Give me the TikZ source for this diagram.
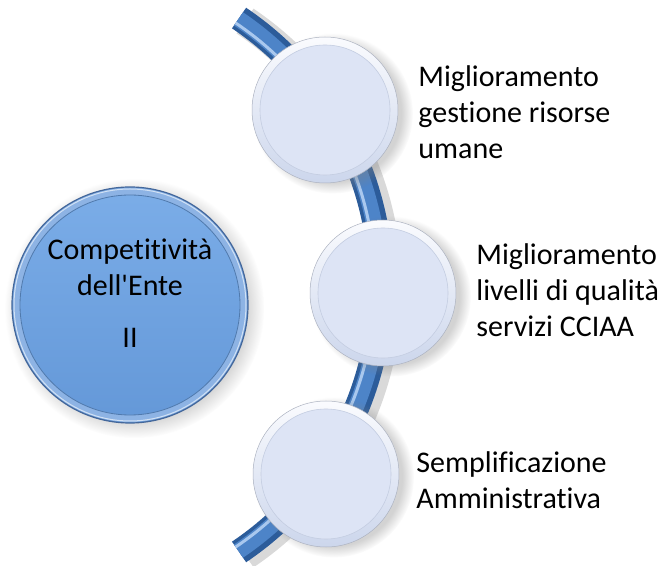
\documentclass[tikz,border=0pt]{standalone}
\usepackage{fontspec}
\setmainfont{Carlito}[Ligatures={TeXOff,NoCommon}]
\usetikzlibrary{shadows,shadings,positioning}
\definecolor{tubedark}{HTML}{2C5C9A}
\definecolor{tubemid}{HTML}{4D84C8}
\definecolor{tubelight}{HTML}{A9C8EE}
\definecolor{bigin}{HTML}{7BADE8}
\definecolor{bigout}{HTML}{6498D8}
\definecolor{bigrim}{HTML}{8DB3E4}
\definecolor{bigedge}{HTML}{44679A}
\definecolor{rimtop}{HTML}{FAFBFE}
\definecolor{rimbot}{HTML}{CCD6EC}
\definecolor{discin}{HTML}{DDE4F5}

\begin{document}
\begin{tikzpicture}[x=1pt,y=1pt,
  bigdisc/.style={circle,minimum size=236pt,inner sep=0pt,draw=bigedge,line width=1.2pt,
    top color=bigin,bottom color=bigout,
    circular drop shadow={shadow xshift=4pt,shadow yshift=-3pt,opacity=.35},
    path picture={\draw[bigrim,line width=7pt] (path picture bounding box.center) circle (113.5pt);
      \draw[white!60!bigrim,line width=1pt] (path picture bounding box.center) circle (116pt);
      \draw[bigout!80!black,line width=.8pt] (path picture bounding box.center) circle (110pt);}},
  smalldisc/.style={circle,minimum size=146pt,inner sep=0pt,draw=rimbot!60!gray,line width=.5pt,
    top color=rimtop,bottom color=rimbot,
    circular drop shadow={shadow xshift=7pt,shadow yshift=-3pt,opacity=.35},
    path picture={\fill[discin,draw=rimbot!90!gray,line width=.6pt] (path picture bounding box.center) circle (65pt);}},
  lbl/.style={align=left,inner sep=0pt,font=\fontsize{30}{36}\selectfont},
  tubeline/.style={line cap=butt}]
  \useasboundingbox (0,0) rectangle (672,565);

  % the curved tube behind the small discs
  \coordinate (tc) at (59,280);
  \draw[tubeline,line width=30pt,black,opacity=.15] ([shift={(6,-3)}]tc) ++(-56:322) arc[start angle=-56,end angle=56,radius=322];
  \draw[tubeline,line width=25pt,tubedark] (tc) ++(-56:322) arc[start angle=-56,end angle=56,radius=322];
  \draw[tubeline,line width=16pt,tubemid] (tc) ++(-56:321) arc[start angle=-56,end angle=56,radius=321];
  \draw[tubeline,line width=3pt,tubelight] (tc) ++(-56:316) arc[start angle=-56,end angle=56,radius=316];

  % discs
  \node[bigdisc] (ente) at (130,260) {};
  \node[align=center,inner sep=0pt,font=\fontsize{30}{36}\selectfont] (enteTxt) at (130,272)
    {Competitività\\dell'Ente\\[16pt]II};
  \node[smalldisc] (top) at (325,455) {};
  \node[smalldisc] (mid) at (383,272) {};
  \node[smalldisc] (bot) at (326,91) {};

  % labels
  \node[lbl,right=20pt of top,yshift=-2pt] (topTxt) {Miglioramento\\gestione risorse\\umane};
  \node[lbl,right=20pt of mid,yshift=3pt] (midTxt) {Miglioramento\\livelli di qualità\\servizi CCIAA};
  \node[lbl,right=17pt of bot,yshift=-6pt] (botTxt) {Semplificazione\\Amministrativa};
\end{tikzpicture}
\end{document}
